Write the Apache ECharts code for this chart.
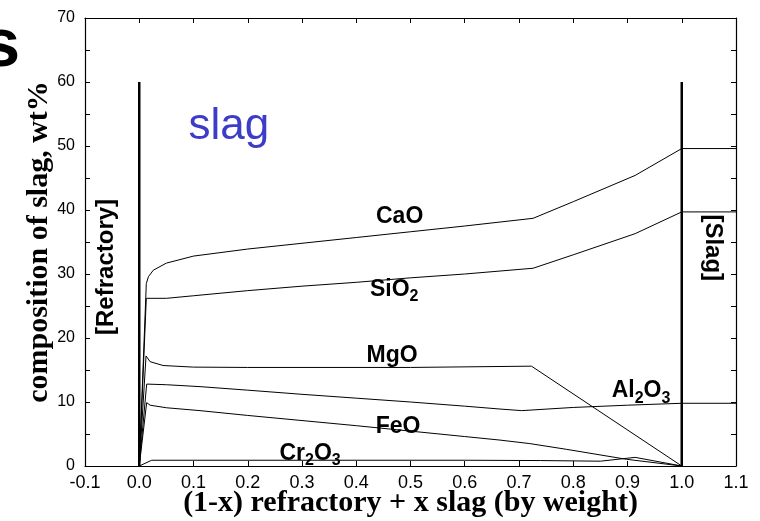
<!DOCTYPE html>
<html><head><meta charset="utf-8">
<script src="https://cdn.jsdelivr.net/npm/echarts@6/dist/echarts.min.js"></script>
<style>html,body{margin:0;padding:0;background:#fff}#c{width:760px;height:521px}</style>
</head><body><div id="c"></div>
<script>
// x tick labels
const xTicks = ['-0.1','0.0','0.1','0.2','0.3','0.4','0.5','0.6','0.7','0.8','0.9','1.0','1.1'];
const yTicks = [0,10,20,30,40,50,60,70];
// series (x = weight fraction of slag, y = wt%)
const CaO   = [[0,0],[0.013,28.5],[0.017,29.6],[0.026,30.6],[0.05,31.7],[0.1,32.8],[0.2,33.9],[0.3,34.8],[0.4,35.7],[0.5,36.6],[0.6,37.5],[0.726,38.7],[0.8,41.3],[0.914,45.4],[1.0,49.6],[1.1,49.6]];
const SiO2  = [[0,0],[0.013,26.2],[0.05,26.2],[0.1,26.6],[0.2,27.4],[0.3,28.1],[0.4,28.7],[0.5,29.4],[0.6,30.0],[0.726,30.9],[0.8,33.0],[0.914,36.3],[1.0,39.7],[1.1,39.7]];
const MgO   = [[0,0],[0.0125,17.2],[0.02,16.3],[0.044,15.7],[0.1,15.45],[0.2,15.4],[0.5,15.4],[0.723,15.6],[1.0,0]];
const Al2O3 = [[0,0],[0.0137,12.8],[0.05,12.7],[0.112,12.4],[0.2,11.85],[0.3,11.2],[0.4,10.6],[0.5,10.0],[0.6,9.35],[0.665,8.9],[0.705,8.65],[0.8,9.15],[0.9,9.5],[1.0,9.8],[1.1,9.8]];
const FeO   = [[0,0],[0.0137,9.9],[0.02,9.5],[0.05,9.1],[0.112,8.65],[0.2,7.9],[0.3,7.1],[0.4,6.3],[0.5,5.45],[0.6,4.6],[0.665,4.05],[0.72,3.5],[0.788,2.6],[0.898,1.05],[1.0,0]];
const Cr2O3 = [[0,0],[0.023,0.9],[0.3,0.9],[0.6,0.9],[0.74,0.85],[0.85,0.75],[0.914,1.35],[1.0,0]];
const walls = [[[0,0],[0,60]],[[1,0],[1,60]]];
// label anchors (data coordinates)
const labels = [
  {t:'{a|CaO}', at:[0.48,38.9]},
  {t:'{a|SiO}{s|2}', at:[0.47,27.6]},
  {t:'{a|MgO}', at:[0.466,17.3]},
  {t:'{a|Al}{s|2}{a|O}{s|3}', at:[0.925,11.7]},
  {t:'{a|FeO}', at:[0.477,6.1]},
  {t:'{a|Cr}{s|2}{a|O}{s|3}', at:[0.315,2.0]}
];

const chart = echarts.init(document.getElementById('c'), null, {renderer:'canvas'});
const lineS = (d) => ({type:'line', data:d, showSymbol:false, symbol:'none', smooth:false,
  lineStyle:{color:'#000', width:1}, silent:true, animation:false});
const axLine = {show:true, onZero:false, lineStyle:{color:'#000', width:1.2}};
const option = {
  animation:false,
  grid:{left:85, right:24, top:18, bottom:55, containLabel:false, outerBoundsMode:'none'},
  xAxis:[
    {type:'value', min:-0.1, max:1.1, interval:0.1, position:'bottom', axisLine:axLine, splitLine:{show:false},
      name:'(1-x) refractory + x slag (by weight)', nameLocation:'middle', nameGap:22, nameMoveOverlap:false,
      nameTextStyle:{fontFamily:'Liberation Serif', fontWeight:'bold', fontSize:30, color:'#000'},
      axisTick:{inside:true, length:5, lineStyle:{color:'#000'}},
      axisLabel:{fontFamily:'Liberation Sans', fontSize:18, color:'#000', margin:8,
        formatter:(v)=>xTicks[Math.round((v+0.1)*10)]}},
    {type:'value', min:-0.1, max:1.1, interval:0.1, position:'top', axisLine:axLine, splitLine:{show:false},
      axisTick:{inside:true, length:5, lineStyle:{color:'#000'}}, axisLabel:{show:false}}
  ],
  yAxis:[
    {type:'value', min:0, max:70, interval:10, position:'left', axisLine:axLine, splitLine:{show:false},
      name:'composition of slag, wt%', nameLocation:'middle', nameGap:31, nameMoveOverlap:false,
      nameTextStyle:{fontFamily:'Liberation Serif', fontWeight:'bold', fontSize:30, color:'#000'},
      axisTick:{inside:true, length:5, lineStyle:{color:'#000'}},
      minorTick:{show:true, splitNumber:2, length:5, lineStyle:{color:'#000'}},
      axisLabel:{fontFamily:'Liberation Sans', fontSize:16, color:'#000', margin:10,
        formatter:(v)=>String(yTicks[Math.round(v/10)])}},
    {type:'value', min:0, max:70, interval:5, position:'right', axisLine:axLine, splitLine:{show:false},
      axisTick:{inside:true, length:5, lineStyle:{color:'#000'}}, axisLabel:{show:false}}
  ],
  series:[
    lineS(CaO), lineS(SiO2), lineS(MgO), lineS(Al2O3), lineS(FeO), lineS(Cr2O3),
    Object.assign(lineS(walls[0]), {lineStyle:{color:'#000', width:2.5}}),
    Object.assign(lineS(walls[1]), {lineStyle:{color:'#000', width:2.5}})
  ]
};
chart.setOption(option);

const rich = {
  a:{fontFamily:'Liberation Sans', fontWeight:'bold', fontSize:23, color:'#000', lineHeight:30, verticalAlign:'middle'},
  s:{fontFamily:'Liberation Sans', fontWeight:'bold', fontSize:16, color:'#000', lineHeight:16, verticalAlign:'bottom'}
};
const g = labels.map(l => {
  const p = chart.convertToPixel({gridIndex:0}, l.at);
  return {type:'text', x:p[0], y:p[1], silent:true,
    style:{text:l.t, rich:rich, align:'center', verticalAlign:'middle'}};
});
const pSlag = chart.convertToPixel({gridIndex:0}, [0.165, 53]);
g.push({type:'text', x:pSlag[0], y:pSlag[1], style:{text:'slag', fontFamily:'Liberation Sans', fontSize:44, fill:'#3c3cc8', align:'center', verticalAlign:'middle'}});
const pRef = chart.convertToPixel({gridIndex:0}, [-0.061, 31.1]);
g.push({type:'text', x:pRef[0], y:pRef[1], rotation:Math.PI/2, style:{text:'[Refractory]', fontFamily:'Liberation Sans', fontWeight:'bold', fontSize:24, fill:'#000', align:'center', verticalAlign:'middle'}});
const pSlg = chart.convertToPixel({gridIndex:0}, [1.056, 34.1]);
g.push({type:'text', x:pSlg[0], y:pSlg[1], rotation:-Math.PI/2, style:{text:'[Slag]', fontFamily:'Liberation Sans', fontWeight:'bold', fontSize:24, fill:'#000', align:'center', verticalAlign:'middle'}});
g.push({type:'text', x:20, y:47, style:{text:'s', fontFamily:'Liberation Sans', fontWeight:'bold', fontSize:68, fill:'#000', align:'right', verticalAlign:'middle'}});
chart.setOption({graphic:g});
</script></body></html>
